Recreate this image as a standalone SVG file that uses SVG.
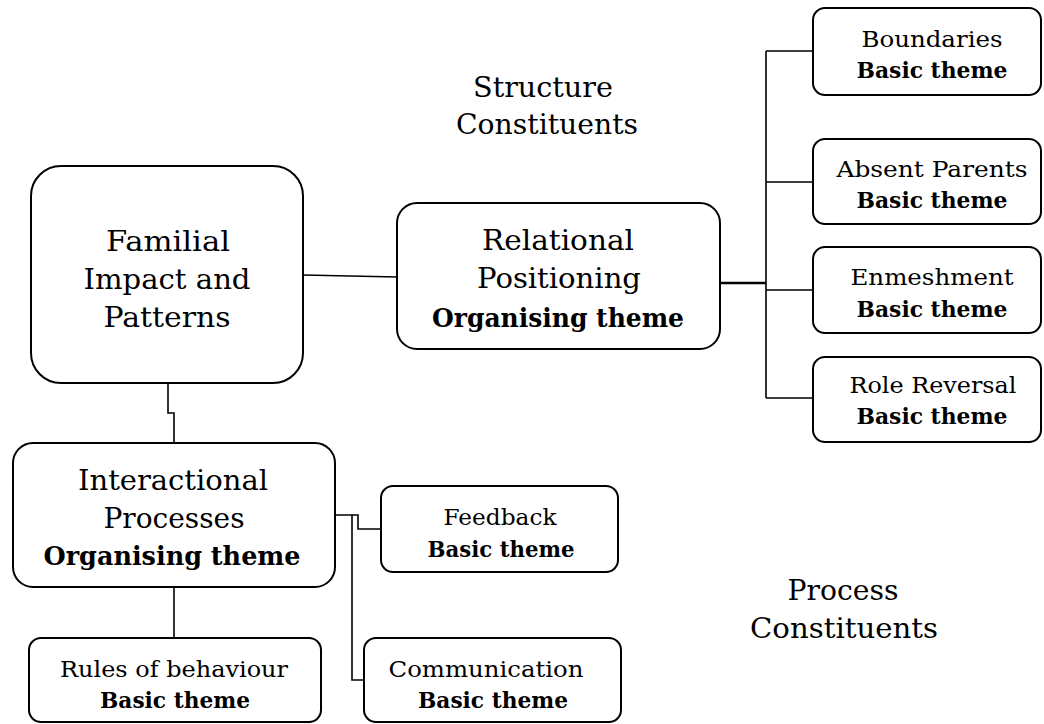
<svg xmlns="http://www.w3.org/2000/svg" width="1044" height="724" viewBox="0 0 1044 724">
<style>
.box{fill:#fff;stroke:#000;stroke-width:2}
.c{fill:none;stroke:#000;stroke-width:1.6}
text{font-family:"DejaVu Serif","Liberation Serif",serif;fill:#000;text-anchor:middle}
.big{font-size:28px}
.ob{font-size:26px;font-weight:bold}
.sm{font-size:22px}
.sb{font-size:22px;font-weight:bold}
</style>
<rect width="1044" height="724" fill="#fff"/>
<g id="connectors">
<path class="c" d="M303,275 L397,277"/>
<path class="c" d="M720,283 H766" style="stroke-width:2.6"/>
<path class="c" d="M766,51 V398 M766,51 H813 M766,182 H813 M766,290 H813 M766,398 H813"/>
<path class="c" d="M168,383 V413 H174 V443"/>
<path class="c" d="M174,587 V638"/>
<path class="c" d="M335,515 H358 V529 H381"/>
<path class="c" d="M352,515 V680 H364"/>
</g>
<g id="label-structure">
<text class="big" x="543" y="97" textLength="140" lengthAdjust="spacingAndGlyphs">Structure</text>
<text class="big" x="547" y="134" textLength="182" lengthAdjust="spacingAndGlyphs">Constituents</text>
</g>
<g id="label-process">
<text class="big" x="843" y="600" textLength="111" lengthAdjust="spacingAndGlyphs">Process</text>
<text class="big" x="844" y="638" textLength="188" lengthAdjust="spacingAndGlyphs">Constituents</text>
</g>
<g id="familial">
<rect class="box" x="31" y="166" width="272" height="217" rx="30"/>
<text class="big" x="168" y="251" textLength="124" lengthAdjust="spacingAndGlyphs">Familial</text>
<text class="big" x="167" y="289" textLength="167" lengthAdjust="spacingAndGlyphs">Impact and</text>
<text class="big" x="167" y="327" textLength="127" lengthAdjust="spacingAndGlyphs">Patterns</text>
</g>
<g id="relational">
<rect class="box" x="397" y="203" width="323" height="146" rx="20"/>
<text class="big" x="558" y="250" textLength="152" lengthAdjust="spacingAndGlyphs">Relational</text>
<text class="big" x="559" y="288" textLength="164" lengthAdjust="spacingAndGlyphs">Positioning</text>
<text class="ob" x="558" y="327" textLength="252" lengthAdjust="spacingAndGlyphs">Organising theme</text>
</g>
<g id="boundaries">
<rect class="box" x="813" y="8" width="228" height="87" rx="12"/>
<text class="sm" x="932" y="47" textLength="141" lengthAdjust="spacingAndGlyphs">Boundaries</text>
<text class="sb" x="932" y="78" textLength="151" lengthAdjust="spacingAndGlyphs">Basic theme</text>
</g>
<g id="absent-parents">
<rect class="box" x="813" y="139" width="228" height="85" rx="12"/>
<text class="sm" x="932" y="177" textLength="191" lengthAdjust="spacingAndGlyphs">Absent Parents</text>
<text class="sb" x="932" y="208" textLength="151" lengthAdjust="spacingAndGlyphs">Basic theme</text>
</g>
<g id="enmeshment">
<rect class="box" x="813" y="247" width="228" height="86" rx="12"/>
<text class="sm" x="932" y="285" textLength="163" lengthAdjust="spacingAndGlyphs">Enmeshment</text>
<text class="sb" x="932" y="317" textLength="151" lengthAdjust="spacingAndGlyphs">Basic theme</text>
</g>
<g id="role-reversal">
<rect class="box" x="813" y="357" width="228" height="85" rx="12"/>
<text class="sm" x="933" y="393" textLength="167" lengthAdjust="spacingAndGlyphs">Role Reversal</text>
<text class="sb" x="932" y="424" textLength="151" lengthAdjust="spacingAndGlyphs">Basic theme</text>
</g>
<g id="interactional">
<rect class="box" x="13" y="443" width="322" height="144" rx="20"/>
<text class="big" x="173" y="490" textLength="190" lengthAdjust="spacingAndGlyphs">Interactional</text>
<text class="big" x="174" y="528" textLength="141" lengthAdjust="spacingAndGlyphs">Processes</text>
<text class="ob" x="172" y="565" textLength="257" lengthAdjust="spacingAndGlyphs">Organising theme</text>
</g>
<g id="feedback">
<rect class="box" x="381" y="486" width="237" height="86" rx="12"/>
<text class="sm" x="500" y="525" textLength="113" lengthAdjust="spacingAndGlyphs">Feedback</text>
<text class="sb" x="501" y="557" textLength="147" lengthAdjust="spacingAndGlyphs">Basic theme</text>
</g>
<g id="rules">
<rect class="box" x="29" y="638" width="292" height="84" rx="12"/>
<text class="sm" x="174" y="677" textLength="228" lengthAdjust="spacingAndGlyphs">Rules of behaviour</text>
<text class="sb" x="175" y="708" textLength="150" lengthAdjust="spacingAndGlyphs">Basic theme</text>
</g>
<g id="communication">
<rect class="box" x="364" y="638" width="257" height="84" rx="12"/>
<text class="sm" x="486" y="677" textLength="195" lengthAdjust="spacingAndGlyphs">Communication</text>
<text class="sb" x="493" y="708" textLength="150" lengthAdjust="spacingAndGlyphs">Basic theme</text>
</g>
</svg>
